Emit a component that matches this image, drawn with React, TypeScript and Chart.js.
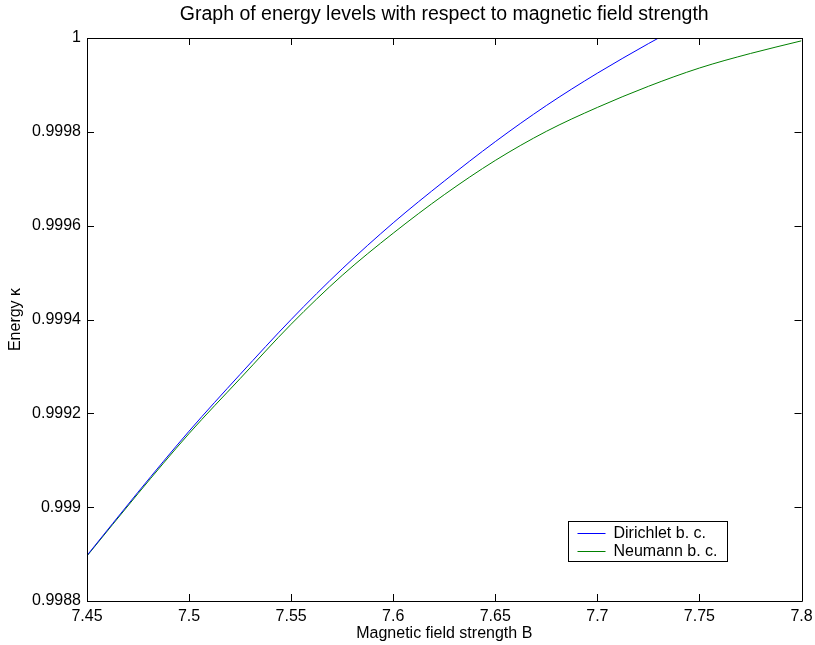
import React, { useEffect, useRef } from "react";
import { Chart, registerables } from "chart.js";

Chart.register(...registerables);

const TITLE = "Graph of energy levels with respect to magnetic field strength";
const X_LABEL = "Magnetic field strength B";
const Y_LABEL = "Energy \u03BA";

const dirichletB = [7.45, 7.475, 7.5, 7.525, 7.55, 7.575, 7.6, 7.625, 7.65, 7.675, 7.7, 7.725, 7.73];
const dirichletE = [0.998897, 0.999032, 0.999162, 0.999283, 0.9994, 0.999508, 0.999606, 0.999695, 0.999779, 0.999856, 0.999925, 0.999988, 1.0];

const neumannB = [7.45, 7.475, 7.5, 7.525, 7.55, 7.575, 7.6, 7.625, 7.65, 7.675, 7.7, 7.725, 7.75, 7.775, 7.8];
const neumannE = [0.998896, 0.999029, 0.999157, 0.999274, 0.99939, 0.999494, 0.999584, 0.999666, 0.999739, 0.999801, 0.999852, 0.999897, 0.999936, 0.999967, 0.999994];

const xTicks = [7.45, 7.5, 7.55, 7.6, 7.65, 7.7, 7.75, 7.8];
const yTicks = [0.9988, 0.999, 0.9992, 0.9994, 0.9996, 0.9998, 1];

const SERIES_NAMES = ["Dirichlet b. c.", "Neumann b. c."];
const SERIES_COLORS = ["#0000ff", "#008000"];

const FONT = "'Liberation Sans', Arial, Helvetica, sans-serif";

const fmt = (v: number) => String(Number(v.toFixed(6)));

const framePlugin = {
  id: "frameTicksLegend",
  afterDraw(chart: any) {
    const { ctx, chartArea } = chart;
    const { left, right, top, bottom } = chartArea;
    const xs = chart.scales.x;
    const ys = chart.scales.y;
    const L = 7;
    ctx.save();
    ctx.strokeStyle = "#000";
    ctx.lineWidth = 1;
    ctx.beginPath();
    ctx.rect(Math.round(left) + 0.5, Math.round(top) + 0.5, Math.round(right - left), Math.round(bottom - top));
    ctx.stroke();
    ctx.beginPath();
    xTicks.forEach((v) => {
      const px = Math.round(xs.getPixelForValue(v)) + 0.5;
      ctx.moveTo(px, bottom);
      ctx.lineTo(px, bottom - L);
      ctx.moveTo(px, top);
      ctx.lineTo(px, top + L);
    });
    yTicks.forEach((v) => {
      const py = Math.round(ys.getPixelForValue(v)) + 0.5;
      ctx.moveTo(left, py);
      ctx.lineTo(left + L, py);
      ctx.moveTo(right, py);
      ctx.lineTo(right - L, py);
    });
    ctx.stroke();

    // legend
    const bx = Math.round(right - 234) + 0.5;
    const by = Math.round(bottom - 80) + 0.5;
    const bw = 159;
    const bh = 40;
    ctx.fillStyle = "#fff";
    ctx.fillRect(bx, by, bw, bh);
    ctx.strokeStyle = "#000";
    ctx.strokeRect(bx, by, bw, bh);
    ctx.font = `16px ${FONT}`;
    ctx.textBaseline = "middle";
    ctx.textAlign = "left";
    SERIES_NAMES.forEach((name, i) => {
      const ly = Math.round(by + 11 + i * 18.5) + 0.5;
      ctx.strokeStyle = SERIES_COLORS[i];
      ctx.lineWidth = 1;
      ctx.beginPath();
      ctx.moveTo(bx + 9, ly);
      ctx.lineTo(bx + 37, ly);
      ctx.stroke();
      ctx.fillStyle = "#000";
      ctx.fillText(name, bx + 45, ly);
    });
    ctx.restore();
  },
};

export default function App() {
  const ref = useRef<HTMLCanvasElement | null>(null);
  useEffect(() => {
    document.body.style.margin = "0";
    const canvas = ref.current;
    if (!canvas) return;
    const chart = new Chart(canvas, {
      type: "line",
      data: {
        datasets: [
          {
            label: SERIES_NAMES[0],
            data: dirichletB.map((x, i) => ({ x, y: dirichletE[i] })),
            borderColor: SERIES_COLORS[0],
            borderWidth: 1,
            pointRadius: 0,
            fill: false,
            cubicInterpolationMode: "monotone",
          },
          {
            label: SERIES_NAMES[1],
            data: neumannB.map((x, i) => ({ x, y: neumannE[i] })),
            borderColor: SERIES_COLORS[1],
            borderWidth: 1,
            pointRadius: 0,
            fill: false,
            cubicInterpolationMode: "monotone",
          },
        ],
      },
      options: {
        animation: false,
        responsive: false,
        maintainAspectRatio: false,
        layout: { padding: { left: 0, right: 13.5, top: 0, bottom: 0 } },
        font: { family: FONT },
        plugins: {
          legend: { display: false },
          tooltip: { enabled: false },
          title: {
            display: true,
            text: TITLE,
            fullSize: false,
            color: "#000",
            font: { family: FONT, size: 19.5, weight: "normal" },
            padding: { top: 3, bottom: 11.6 },
          },
        },
        scales: {
          x: {
            type: "linear",
            min: 7.45,
            max: 7.8,
            grid: { display: false, drawTicks: false },
            border: { display: false },
            afterBuildTicks: (s: any) => {
              s.ticks = xTicks.map((v) => ({ value: v }));
            },
            afterFit: (s: any) => {
              s.height = 44;
              s.paddingLeft = 0;
              s.paddingRight = 0;
            },
            ticks: {
              color: "#000",
              font: { family: FONT, size: 16 },
              padding: 6,
              maxRotation: 0,
              autoSkip: false,
              callback: (v: any) => fmt(Number(v)),
            },
            title: {
              display: true,
              text: X_LABEL,
              color: "#000",
              font: { family: FONT, size: 16 },
              padding: 2,
            },
          },
          y: {
            type: "linear",
            min: 0.9988,
            max: 1,
            grid: { display: false, drawTicks: false },
            border: { display: false },
            afterBuildTicks: (s: any) => {
              s.ticks = yTicks.map((v) => ({ value: v }));
            },
            afterFit: (s: any) => {
              s.width = 87;
              s.paddingTop = 0;
              s.paddingBottom = 0;
            },
            ticks: {
              color: "#000",
              font: { family: FONT, size: 16 },
              padding: 6,
              autoSkip: false,
              callback: (v: any) => fmt(Number(v)),
            },
            title: {
              display: true,
              text: Y_LABEL,
              color: "#000",
              font: { family: FONT, size: 16 },
              padding: 6,
            },
          },
        },
      },
      plugins: [framePlugin],
    });
    return () => chart.destroy();
  }, []);
  return <canvas ref={ref} width={815} height={645} style={{ display: "block" }} />;
}
